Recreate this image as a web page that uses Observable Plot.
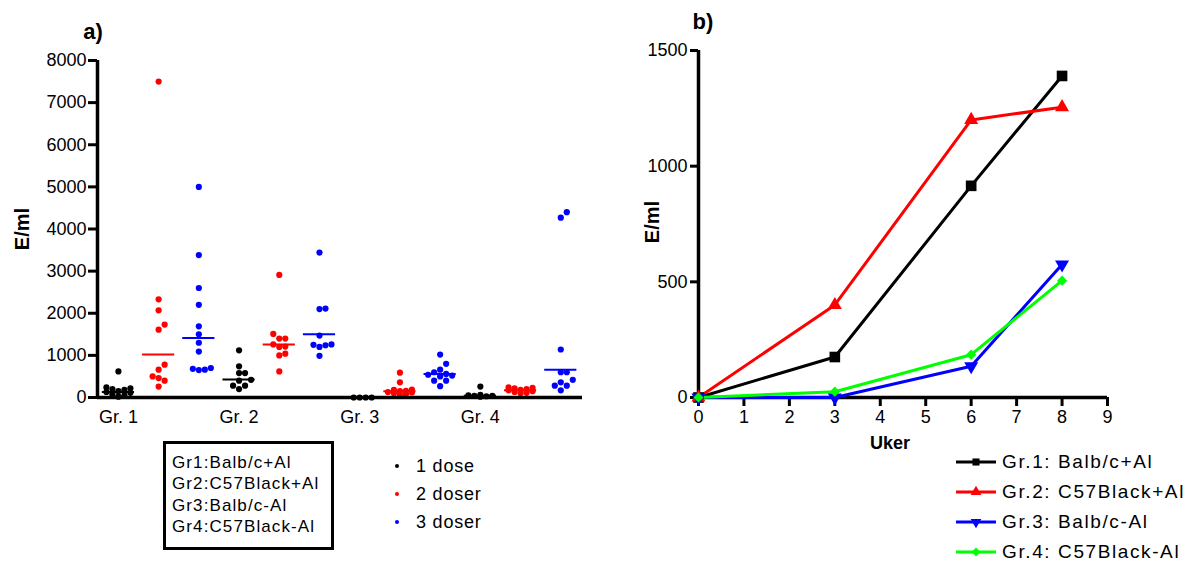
<!DOCTYPE html>
<html><head><meta charset="utf-8">
<script src="https://cdn.jsdelivr.net/npm/d3@7"></script>
<script src="https://cdn.jsdelivr.net/npm/@observablehq/plot@0.6"></script>
<style>
body{margin:0;background:#fff;font-family:"Liberation Sans",Arial,sans-serif;color:#000;}
#root{position:relative;width:1187px;height:561px;overflow:hidden;background:#fff;}
.abs{position:absolute;white-space:nowrap;}
.c{transform:translate(-50%,-50%);}
.vl{transform:translate(0,-50%);}
.bold{font-weight:bold;}
</style></head><body><div id="root"></div>
<script>
// ---------- Panel a data ----------
const groupLabels = ["Gr. 1", "Gr. 2", "Gr. 3", "Gr. 4"];
const doseLabels = ["1 dose", "2 doser", "3 doser"];
const doseColors = ["#000000", "#ff0000", "#0000ff"];
const yTicksA = [0, 1000, 2000, 3000, 4000, 5000, 6000, 7000, 8000];
// values per group (Gr1..Gr4) for each dose
const dose1 = [
  [620, 240, 220, 200, 180, 150, 130, 110, 80, 50, 20],
  [1120, 740, 580, 580, 420, 400, 280, 280, 200],
  [0, 0, 0, 0],
  [260, 60, 50, 40, 40, 30, 20]
];
const dose2 = [
  [7500, 2330, 2070, 1730, 1610, 780, 660, 500, 460, 400, 260],
  [2910, 1510, 1400, 1400, 1260, 1210, 1200, 1040, 1000, 620],
  [590, 360, 190, 180, 160, 150, 130, 120, 100, 80, 70],
  [240, 230, 220, 200, 180, 170, 150, 130, 110, 100]
];
const dose3 = [
  [5000, 3380, 2600, 2200, 1690, 1500, 1300, 1090, 700, 680, 660, 650],
  [3440, 2110, 2100, 1470, 1260, 1250, 1240, 1200, 990],
  [1020, 800, 660, 600, 560, 540, 520, 500, 400, 400, 270],
  [4400, 4270, 1140, 600, 600, 420, 360, 280, 280, 170]
];
const median1 = [130, 430, 0, 40];
const median2 = [1020, 1260, 150, 170];
const median3 = [1410, 1500, 560, 660];

// ---------- Panel b data ----------
const weeks = [0, 3, 6, 8];
const seriesNames = ["Gr.1: Balb/c+Al", "Gr.2: C57Black+Al", "Gr.3: Balb/c-Al", "Gr.4: C57Black-Al"];
const seriesColors = ["#000000", "#ff0000", "#0000ff", "#00ff00"];
const gr1 = [0, 175, 915, 1390];
const gr2 = [0, 400, 1200, 1255];
const gr3 = [0, 0, 135, 575];
const gr4 = [0, 25, 185, 505];
const yTicksB = [0, 500, 1000, 1500];
const xTicksB = [0, 1, 2, 3, 4, 5, 6, 7, 8, 9];

const FONT = '"Liberation Sans", Arial, sans-serif';
const root = document.getElementById("root");

// ---------- build panel a tables ----------
const xDomA = [-0.52, 11.54];
const A = {w: 600, h: 430, ml: 97, mr: 18, mt: 60, mb: 33};
const pxPerUnit = (A.w - A.ml - A.mr) / (xDomA[1] - xDomA[0]);
const yPxA = d3.scaleLinear([0, 8000], [A.h - A.mb, A.mt]);
const R = 3.1, STEP = 6, MIND = 6, MAXK = 2;
function swarm(values) {
  const placed = [];
  const sorted = values.slice().sort((a, b) => a - b);
  const ks = [0];
  for (let k = 1; k <= MAXK; k++) ks.push(k, -k);
  for (const v of sorted) {
    const py = yPxA(v);
    let best = null, bestD = -1;
    for (const k of ks) {
      const ox = k * STEP;
      const dmin = placed.length ? Math.min(...placed.map(p => Math.hypot(p.ox - ox, p.py - py))) : Infinity;
      if (dmin >= MIND) { best = ox; bestD = Infinity; break; }
      if (dmin > bestD) { bestD = dmin; best = ox; }
    }
    placed.push({v, ox: best, py});
  }
  return placed;
}
const doses = [dose1, dose2, dose3];
const medians = [median1, median2, median3];
const points = [];
const medianRows = [];
for (let g = 0; g < 4; g++) {
  for (let d = 0; d < 3; d++) {
    const col = g * 3 + d;
    for (const p of swarm(doses[d][g])) points.push({col, dx: p.ox / pxPerUnit, value: p.v, color: doseColors[d]});
    medianRows.push({col, median: medians[d][g], color: doseColors[d]});
  }
}

const chartA = Plot.plot({
  width: A.w, height: A.h, marginLeft: A.ml, marginRight: A.mr, marginTop: A.mt, marginBottom: A.mb,
  x: {domain: xDomA},
  y: {domain: [0, 8000]},
  color: {type: "identity"},
  style: {fontFamily: FONT, fontSize: "18px", color: "#000", background: "transparent", overflow: "visible"},
  marks: [
    Plot.axisY({ticks: yTicksA, tickSize: 9, tickPadding: 2, strokeWidth: 3, fontSize: 18, label: null, tickFormat: d => String(d)}),
    Plot.axisX({ticks: [0, 3, 6, 9], tickFormat: i => groupLabels[Math.round(i / 3)], tickSize: 0, tickPadding: 13, fontSize: 18, label: null}),
    Plot.dot(points, {x: d => d.col + d.dx, y: "value", r: R, fill: "color", stroke: null}),
    Plot.ruleY(medianRows, {x1: d => d.col - 0.4, x2: d => d.col + 0.4, y: "median", stroke: "color", strokeWidth: 2}),
    Plot.ruleY([0], {strokeWidth: 3.5}),
    Plot.ruleX([xDomA[0]], {y1: 0, y2: 8000, strokeWidth: 3.5})
  ]
});
chartA.style.position = "absolute"; chartA.style.left = "0px"; chartA.style.top = "0px";
root.appendChild(chartA);

// ---------- panel b ----------
const triangleDown = {
  draw(context, size) {
    const y = -Math.sqrt(size / (Math.sqrt(3) * 3));
    context.moveTo(0, -y * 2);
    context.lineTo(-Math.sqrt(3) * y, y);
    context.lineTo(Math.sqrt(3) * y, y);
    context.closePath();
  }
};
const seriesSymbols = ["square", "triangle", triangleDown, "diamond2"];
const seriesR = [6, 5.2, 5.2, 4.6];
const seriesVals = [gr1, gr2, gr3, gr4];
const rowsB = [];
seriesVals.forEach((vals, s) => vals.forEach((v, i) => rowsB.push({s, week: weeks[i], value: v})));

const B = {w: 587, h: 430, ml: 98, mr: 80, mt: 50, mb: 33};
const marksB = [
  Plot.axisY({ticks: yTicksB, tickSize: 8, tickPadding: 3, strokeWidth: 3, fontSize: 18, label: null, tickFormat: d => String(d)}),
  Plot.axisX({ticks: xTicksB, tickSize: 9, tickPadding: 4, strokeWidth: 3, fontSize: 18, label: null}),
  Plot.ruleY([0], {strokeWidth: 3.5}),
  Plot.ruleX([0], {strokeWidth: 3.5})
];
for (let s = 0; s < 4; s++) {
  const data = rowsB.filter(d => d.s === s);
  marksB.push(Plot.line(data, {x: "week", y: "value", stroke: seriesColors[s], strokeWidth: 3}));
}
for (let s = 0; s < 4; s++) {
  const data = rowsB.filter(d => d.s === s);
  marksB.push(Plot.dot(data, {x: "week", y: "value", symbol: () => seriesSymbols[s], r: seriesR[s], fill: seriesColors[s], stroke: null}));
}
const chartB = Plot.plot({
  width: B.w, height: B.h, marginLeft: B.ml, marginRight: B.mr, marginTop: B.mt, marginBottom: B.mb,
  x: {domain: [0, 9]},
  y: {domain: [0, 1500]},
  symbol: {type: "identity"},
  style: {fontFamily: FONT, fontSize: "18px", color: "#000", background: "transparent", overflow: "visible"},
  marks: marksB
});
chartB.style.position = "absolute"; chartB.style.left = "600px"; chartB.style.top = "0px";
root.appendChild(chartB);

// ---------- text labels ----------
function addText(txt, x, y, cls, style) {
  const el = document.createElement("div");
  el.className = "abs " + cls;
  el.textContent = txt;
  el.style.left = x + "px"; el.style.top = y + "px";
  Object.assign(el.style, style || {});
  root.appendChild(el);
  return el;
}
addText("a)", 93, 32, "c bold", {fontSize: "22px"});
addText("b)", 703, 22, "c bold", {fontSize: "22px"});
addText("E/ml", 22, 229, "bold", {fontSize: "20px", transform: "translate(-50%,-50%) rotate(-90deg)"});
addText("E/ml", 652, 222, "bold", {fontSize: "20px", transform: "translate(-50%,-50%) rotate(-90deg)"});
addText("Uker", 890, 443, "c bold", {fontSize: "18px"});

// legend box (groups)
const box = document.createElement("div");
box.className = "abs";
Object.assign(box.style, {left: "163px", top: "441px", width: "165px", height: "103px", border: "3px solid #000", padding: "0"});
root.appendChild(box);
["Gr1:Balb/c+Al", "Gr2:C57Black+Al", "Gr3:Balb/c-Al", "Gr4:C57Black-Al"].forEach((t, i) => {
  addText(t, 172, 463 + i * 21.3, "vl", {fontSize: "17px", letterSpacing: "1.1px"});
});

// dose legend
doseLabels.forEach((t, i) => {
  const y = 466 + i * 28;
  const dot = document.createElement("div");
  dot.className = "abs";
  Object.assign(dot.style, {left: "395px", top: (y - 2) + "px", width: "4px", height: "4px", borderRadius: "50%", background: doseColors[i]});
  root.appendChild(dot);
  addText(t, 416, y, "vl", {fontSize: "18px", letterSpacing: "0.8px"});
});

// series legend (panel b)
const svgL = d3.create("svg").attr("width", 60).attr("height", 120)
  .style("position", "absolute").style("left", "950px").style("top", "445px");
seriesNames.forEach((t, i) => {
  const y = 17 + i * 30;
  svgL.append("line").attr("x1", 6).attr("x2", 46).attr("y1", y).attr("y2", y)
    .attr("stroke", seriesColors[i]).attr("stroke-width", 3);
  const type = typeof seriesSymbols[i] === "string"
    ? {square: d3.symbolSquare, triangle: d3.symbolTriangle, diamond2: d3.symbolDiamond2}[seriesSymbols[i]]
    : seriesSymbols[i];
  svgL.append("path").attr("transform", `translate(26,${y})`)
    .attr("d", d3.symbol(type, 50)()).attr("fill", seriesColors[i]);
  addText(t, 1002, 445 + y, "vl", {fontSize: "19px", letterSpacing: "1.6px"});
});
root.appendChild(svgL.node());
</script></body></html>
